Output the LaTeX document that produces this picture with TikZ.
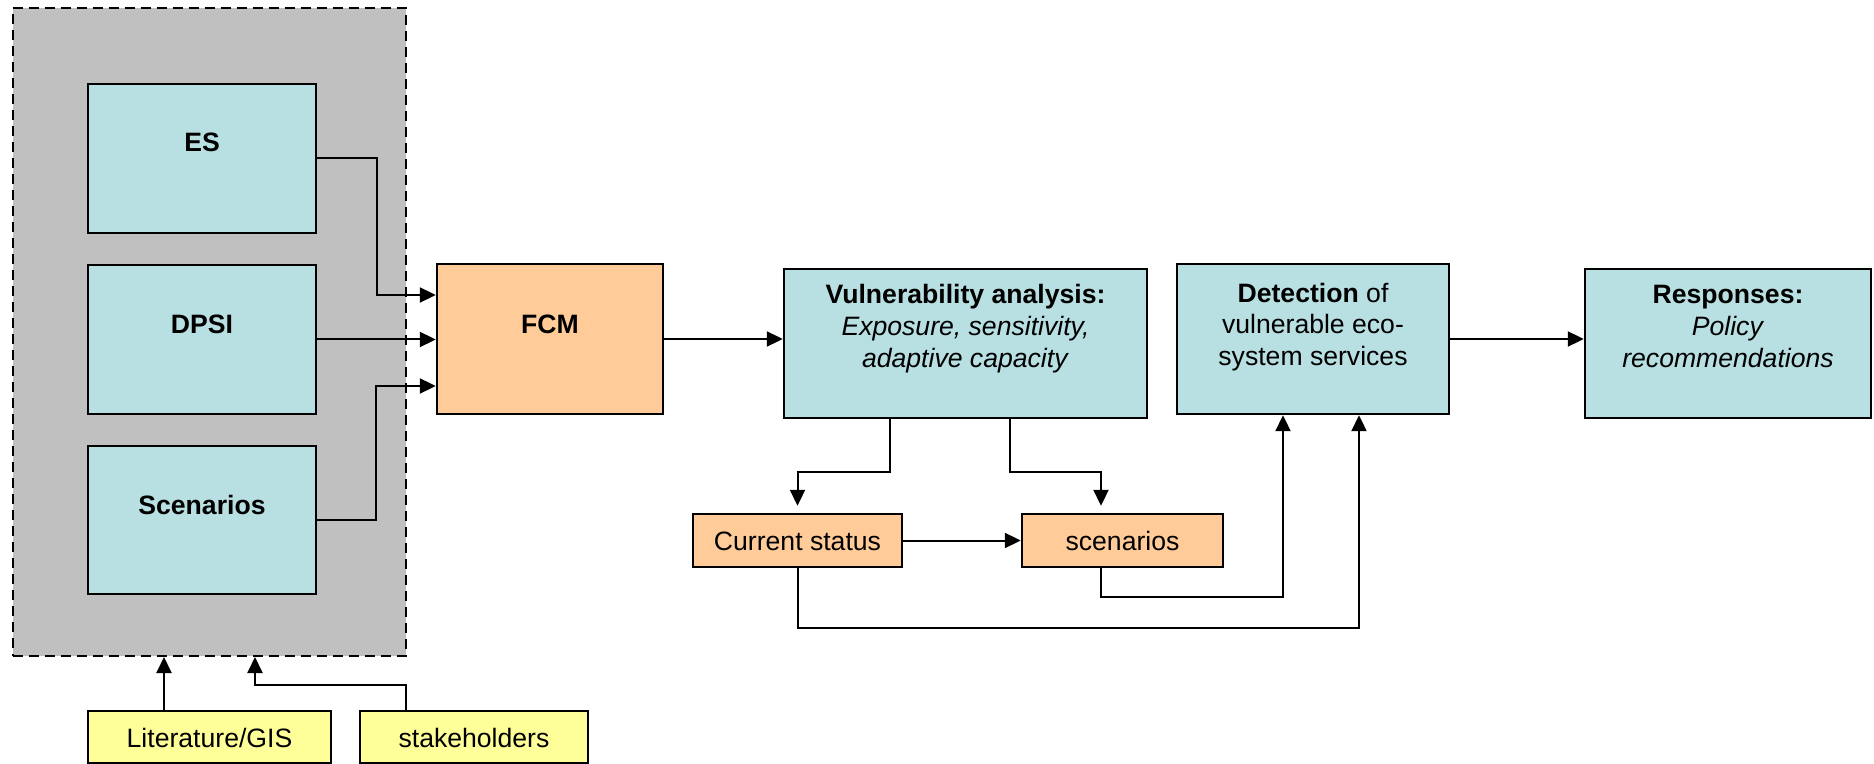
\documentclass[tikz,border=0pt]{standalone}
\usepackage{fontspec}
\setmainfont{Liberation Sans}
\usetikzlibrary{arrows.meta,calc}
\definecolor{boxblue}{RGB}{184,223,225}
\definecolor{boxorange}{RGB}{255,204,153}
\definecolor{boxyellow}{RGB}{255,255,153}
\definecolor{panelgrey}{RGB}{192,192,192}

\begin{document}
\begin{tikzpicture}[x=0.5pt,y=-0.5pt,
  box/.style={draw=black, line width=1.2pt, inner sep=0pt},
  bluebox/.style={box, fill=boxblue},
  orangebox/.style={box, fill=boxorange},
  yellowbox/.style={box, fill=boxyellow},
  panel/.style={draw=black, line width=1pt, dash pattern=on 5pt off 3pt, fill=panelgrey, inner sep=0pt},
  arr/.style={line width=1pt, -{Triangle[length=8pt,width=7.5pt]}},
  lbl/.style={font=\fontsize{13.3}{16}\selectfont, inner sep=0pt, align=center, anchor=base},
  blbl/.style={lbl, font=\fontsize{13.3}{16}\selectfont\bfseries},
]
\useasboundingbox (0,0) rectangle (1874,764);

% grey input panel
\node[panel, minimum width=196.5pt, minimum height=324pt] (panel) at (209.5,332) {};

% boxes
\node[bluebox, minimum width=114pt, minimum height=74.5pt] (es) at (202,158.5) {};
\node[bluebox, minimum width=114pt, minimum height=74.5pt] (dpsi) at (202,339.5) {};
\node[bluebox, minimum width=114pt, minimum height=74pt] (scen) at (202,520) {};
\node[orangebox, minimum width=113pt, minimum height=75pt] (fcm) at (550,339) {};
\node[bluebox, minimum width=181.5pt, minimum height=74.5pt] (vuln) at (965.5,343.5) {};
\node[bluebox, minimum width=136pt, minimum height=75pt] (det) at (1313,339) {};
\node[bluebox, minimum width=143pt, minimum height=74.5pt] (resp) at (1728,343.5) {};
\node[orangebox, minimum width=104.5pt, minimum height=26.5pt] (cur) at (797.5,540.5) {};
\node[orangebox, minimum width=100.5pt, minimum height=26.5pt] (scen2) at (1122.5,540.5) {};
\node[yellowbox, minimum width=121.5pt, minimum height=26pt] (lit) at (209.5,737) {};
\node[yellowbox, minimum width=114pt, minimum height=26pt] (stake) at (474,737) {};

% labels (multi-line labels are anchored on their last baseline)
\node[blbl] (es-t) at (202,152) {ES};
\node[blbl] (dpsi-t) at (202,334) {DPSI};
\node[blbl] (scen-t) at (202,515) {Scenarios};
\node[blbl] (fcm-t) at (550,334) {FCM};
\node[lbl] (vuln-t) at (965.5,368) {\textbf{Vulnerability analysis:}\\ \textit{Exposure, sensitivity,}\\ \textit{adaptive capacity}};
\node[lbl] (det-t) at (1313,366) {\textbf{Detection} of\\ vulnerable eco-\\ system services};
\node[lbl] (resp-t) at (1728,368) {\textbf{Responses:}\\ \textit{Policy}\\ \textit{recommendations}};
\node[lbl] (cur-t) at (797.5,550) {Current status};
\node[lbl] (scen2-t) at (1122.5,550) {scenarios};
\node[lbl] (lit-t) at (209.5,747) {Literature/GIS};
\node[lbl] (stake-t) at (474,747) {stakeholders};

% connectors into FCM
\draw[arr] (es.east) -- ++(60,0) |- (fcm.west |- 0,295);
\draw[arr] (dpsi.east) -- (dpsi.east -| fcm.west);
\draw[arr] (scen.east) -- ++(59,0) |- (fcm.west |- 0,386);

% main chain
\draw[arr] (fcm.east) -- (fcm.east -| vuln.west);
\draw[arr] (det.east) -- (det.east -| resp.west);

% vulnerability outputs
\draw[arr, shorten >=3.5pt] (vuln.south -| 890,0) -- (890,472) -| (cur.north);
\draw[arr, shorten >=3.5pt] (vuln.south -| 1010,0) -- (1010,472) -| (scen2.north -| 1101,0);
\draw[arr] (cur.east) -- (scen2.west);

% feedback into detection
\draw[arr] (scen2.south -| 1101,0) -- (1101,597) -| (det.south -| 1283,0);
\draw[arr] (cur.south) -- (797.5,628) -| (det.south -| 1359,0);

% sources feeding the panel
\draw[arr] (lit.north -| 164,0) -- (panel.south -| 164,0);
\draw[arr] (stake.north -| 406,0) -- (406,685) -| (panel.south -| 255,0);
\end{tikzpicture}
\end{document}
